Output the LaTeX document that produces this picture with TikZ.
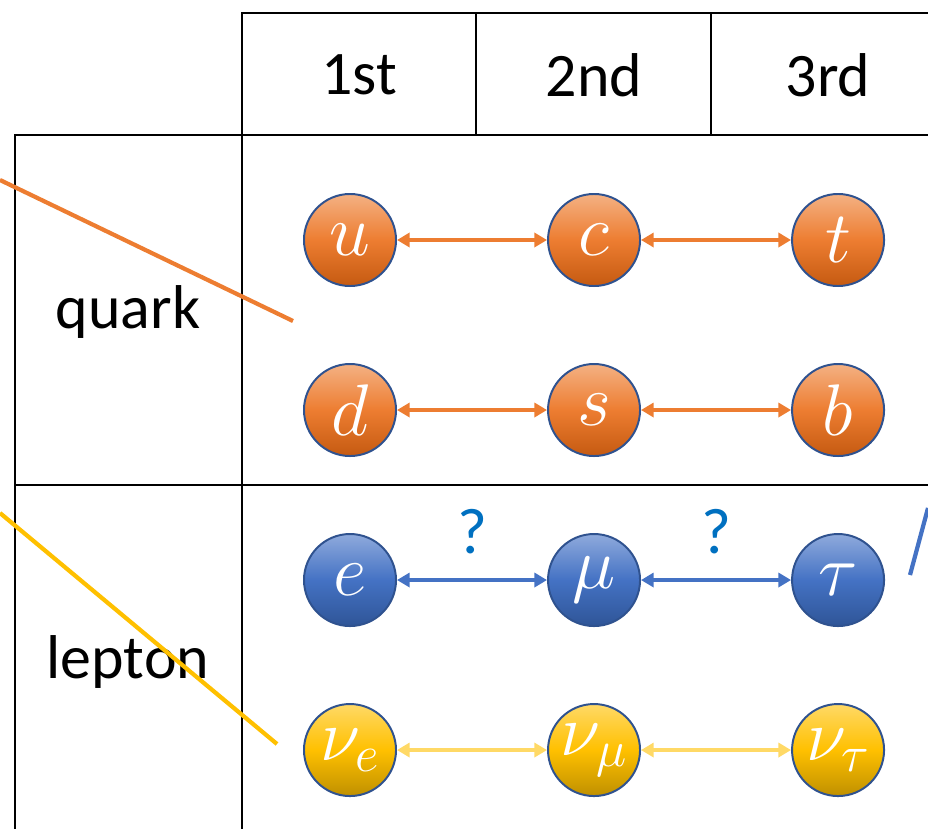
\RequirePackage{fix-cm}
\documentclass[tikz,border=0pt]{standalone}
\usepackage{fontspec}
\newfontfamily\calibfont{Carlito}
\usetikzlibrary{
  positioning,
  arrows.meta
}
\definecolor{quarktop}{RGB}{244,177,131}
\definecolor{quarkmid}{RGB}{237,125,49}
\definecolor{quarkbot}{RGB}{197,90,17}
\definecolor{leptontop}{RGB}{143,170,220}
\definecolor{leptonmid}{RGB}{68,114,196}
\definecolor{leptonbot}{RGB}{47,85,151}
\definecolor{neutrinotop}{RGB}{255,217,102}
\definecolor{neutrinomid}{RGB}{255,192,0}
\definecolor{neutrinobot}{RGB}{191,144,0}
\definecolor{rimcolor}{RGB}{47,82,143}
\definecolor{nuarrowcolor}{RGB}{255,217,102}
\definecolor{qmarkcolor}{RGB}{0,112,192}
\tikzset{
  particle/.style={
    circle,
    draw=rimcolor,
    line width=1.4pt,
    minimum size=2.3cm,
    inner sep=0pt,
    top color=#1top,
    bottom color=#1bot,
    middle color=#1mid,
    text=white,
    font=\fontsize{52}{52}\selectfont
  },
  mixarrow/.style={
    {Triangle[length=9pt,width=10pt]}-{Triangle[length=9pt,width=10pt]},
    line width=2.8pt,
    color=#1
  },
  tableline/.style={
    line width=2.1pt,
    black
  },
  bigtext/.style={
    font=\calibfont\fontsize{44}{44}\selectfont
  },
  qmark/.style={
    font=\calibfont\fontsize{46}{46}\selectfont,
    text=qmarkcolor,
    inner sep=0pt
  },
  strayline/.style={
    line width=3pt,
    color=#1
  }
}

\begin{document}
\begin{tikzpicture}[x=0.025cm, y=-0.025cm, node distance=1.9cm and 3.75cm]
  \useasboundingbox (0,0) rectangle (928,829);

  % Table
  \draw[tableline] (242,829) -- (242,13) -- (928,13);
  \draw[tableline] (476,13) -- (476,135);
  \draw[tableline] (711,13) -- (711,135);
  \draw[tableline] (15,829) -- (15,135) -- (928,135);
  \draw[tableline] (15,485) -- (928,485);

  % Headers
  \node[bigtext] (gen1) at (359,75) {1st};
  \node[bigtext] (gen2) at (594,75) {2nd};
  \node[bigtext] (gen3) at (828,75) {3rd};
  \node[bigtext] (quarklabel) at (128,312) {quark};
  \node[bigtext] (leptonlabel) at (128,662) {lepton};

  % Quarks
  \node[particle=quark] (u) at (350,240) {$u$};
  \node[particle=quark, right=of u] (c) {$c$};
  \node[particle=quark, right=of c] (t) {$t$};

  \node[particle=quark, below=of u] (d) {$d$};
  \node[particle=quark, right=of d] (s) {$s$};
  \node[particle=quark, right=of s] (b) {$b$};

  % Leptons
  \node[particle=lepton, below=of d] (e) {$e$};
  \node[particle=lepton, right=of e] (mu) {$\mu$};
  \node[particle=lepton, right=of mu] (tau) {$\tau$};

  \node[particle=neutrino, below=of e] (nue) {$\nu_e$};
  \node[particle=neutrino, right=of nue] (numu) {$\nu_\mu$};
  \node[particle=neutrino, right=of numu] (nutau) {$\nu_\tau$};

  % Mixing arrows
  \draw[mixarrow=quarkmid] (u) -- (c);
  \draw[mixarrow=quarkmid] (c) -- (t);
  \draw[mixarrow=quarkmid] (d) -- (s);
  \draw[mixarrow=quarkmid] (s) -- (b);
  \draw[mixarrow=leptonmid] (e) -- node[qmark, above=0.6cm] (q1) {?} (mu);
  \draw[mixarrow=leptonmid] (mu) -- node[qmark, above=0.6cm] (q2) {?} (tau);
  \draw[mixarrow=nuarrowcolor] (nue) -- (numu);
  \draw[mixarrow=nuarrowcolor] (numu) -- (nutau);

  % Stray lines
  \coordinate (orangeA) at (0,180);
  \coordinate (orangeB) at (293,321);
  \coordinate (yellowA) at (0,513);
  \coordinate (yellowB) at (277,744);
  \coordinate (blueA) at (910,575);
  \coordinate (blueB) at (928,508);
  \draw[strayline=quarkmid] (orangeA) -- (orangeB);
  \draw[strayline=neutrinomid] (yellowA) -- (yellowB);
  \draw[strayline=leptonmid] (blueA) -- (blueB);

\end{tikzpicture}
\end{document}
